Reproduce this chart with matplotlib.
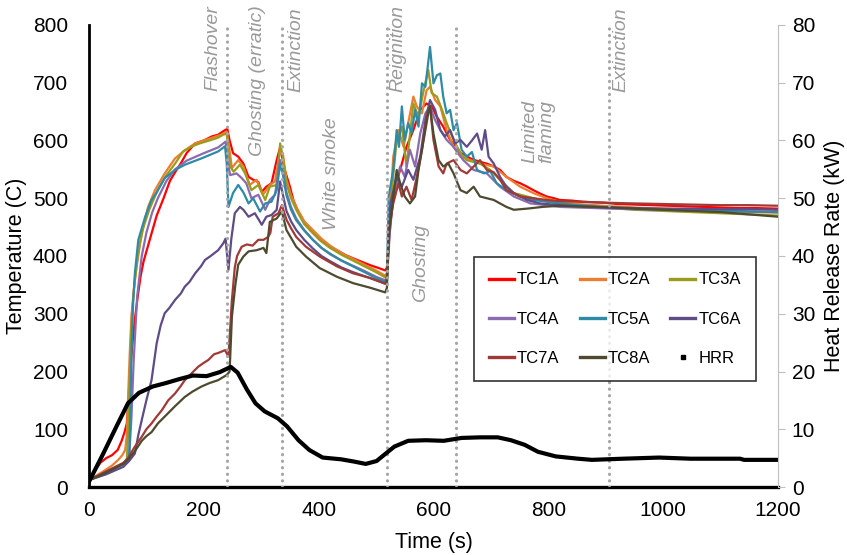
import matplotlib
matplotlib.use("Agg")
import matplotlib.pyplot as plt
from matplotlib.lines import Line2D

plt.rcParams['font.family'] = ['Liberation Sans', 'DejaVu Sans']

# thermocouple readings, temperature (C) against time (s)
tc1a_t = [0, 10, 20, 30, 40, 50, 57, 62, 66, 70, 75, 80, 85, 90, 95, 105, 118, 130, 141, 150, 161, 170, 185, 200, 214, 225, 237, 241,
          245, 251, 260, 269, 278, 286, 295, 301, 309, 318, 327, 333,
          341, 350, 356, 365, 373, 385, 402, 420, 432, 446, 460, 475, 490, 505, 516,
          519, 522, 525, 533, 542, 553, 565, 577, 588, 597, 606, 617, 629, 640, 647, 655, 664, 672, 681, 693, 705, 716, 727, 740, 751,
          763, 774, 786, 797, 810, 820, 840, 860, 880, 900, 920, 950, 980, 1010, 1040, 1070, 1100, 1130, 1160, 1200]
tc1a = [12, 28, 42, 50, 55, 64, 80, 95, 110, 170, 240, 290, 330, 365, 390, 425, 470, 500, 530, 545, 562, 578, 595, 600, 607, 610, 618, 620,
        600, 578, 572, 560, 537, 532, 528, 511, 520, 526, 566, 588,
        549, 520, 497, 475, 462, 445, 428, 415, 410, 402, 396, 390, 384, 379, 375,
        380, 420, 457, 520, 549, 589, 618, 653, 664, 659, 641, 624, 601, 590, 578, 575, 569, 566, 563, 560, 555, 549, 537, 530, 526,
        520, 514, 508, 503, 500, 497, 496, 494, 493, 492, 490, 489, 488, 487, 486, 485, 484, 483, 483, 482]

tc2a_t = [0, 10, 20, 28, 40, 51, 58, 63, 66, 68, 71, 74, 78, 83, 92, 103, 115, 132, 150, 167, 185, 200, 215, 230, 240,
          244, 249, 255, 260, 269, 280, 292, 303, 315, 324, 333, 338, 344, 352, 361, 375, 390, 405, 420, 440, 460, 480, 500, 516,
          519, 524, 530, 539, 548, 556, 565, 571, 580, 588, 594, 603, 612, 623, 635, 647, 664, 681, 705, 727, 751, 774, 797, 820,
          850, 880, 910, 950, 1000, 1050, 1100, 1150, 1200]
tc2a = [12, 18, 24, 29, 37, 47, 55, 64, 90, 150, 230, 295, 340, 381, 440, 485, 514, 543, 569, 583, 595, 600, 605, 610, 615,
        590, 552, 560, 566, 555, 523, 532, 506, 523, 529, 584, 575, 532, 505, 485, 460, 445, 430, 418, 405, 395, 385, 375, 366,
        370, 470, 572, 618, 589, 630, 676, 659, 647, 687, 693, 670, 659, 618, 589, 572, 566, 560, 555, 537, 520, 509, 500, 494,
        490, 488, 486, 484, 482, 480, 478, 476, 475]

tc3a_t = [0, 20, 40, 60, 66, 69, 72, 75, 80, 86, 95, 105, 120, 135, 150, 164, 180, 193, 210, 225, 234, 240,
          246, 252, 263, 272, 283, 295, 307, 315, 327, 333, 338, 344, 352, 361, 375, 390, 405, 420, 440, 460, 480, 500, 516,
          519, 524, 530, 536, 545, 553, 565, 574, 583, 591, 597, 606, 615, 623, 635, 647, 658, 681, 699, 716, 740, 763, 786, 820,
          850, 880, 910, 950, 1000, 1050, 1100, 1150, 1200]
tc3a = [12, 20, 30, 40, 48, 110, 220, 300, 360, 410, 450, 480, 515, 540, 560, 581, 590, 595, 600, 605, 610, 612,
        555, 546, 558, 543, 514, 523, 497, 520, 523, 595, 570, 525, 500, 480, 455, 440, 425, 414, 402, 392, 382, 372, 363,
        368, 460, 540, 601, 624, 555, 664, 641, 687, 722, 682, 676, 653, 630, 601, 578, 566, 560, 549, 532, 509, 503, 497, 491,
        488, 485, 483, 480, 478, 476, 474, 472, 470]

tc4a_t = [0, 20, 40, 60, 70, 74, 78, 84, 92, 100, 110, 120, 135, 150, 170, 200, 225, 238,
          242, 246, 257, 266, 274, 283, 295, 307, 315, 324, 333, 338, 344, 352, 361, 375, 390, 405, 420, 440, 460, 480, 500, 516,
          519, 524, 530, 542, 550, 559, 568, 577, 586, 594, 603, 612, 623, 635, 652, 670, 693, 716, 740, 769, 797, 820,
          850, 880, 910, 950, 1000, 1050, 1100, 1150, 1200]
tc4a = [12, 20, 30, 40, 50, 120, 220, 330, 400, 440, 475, 500, 530, 550, 565, 578, 588, 598,
        560, 540, 543, 535, 526, 500, 506, 480, 497, 506, 566, 545, 510, 485, 465, 445, 428, 414, 403, 392, 383, 374, 364, 358,
        362, 440, 503, 555, 537, 584, 555, 612, 647, 659, 635, 618, 601, 589, 566, 549, 543, 520, 503, 491, 488, 485,
        484, 483, 482, 481, 480, 479, 478, 477, 476]

tc5a_t = [0, 20, 40, 60, 70, 72, 74, 77, 80, 86, 98, 109, 118, 132, 150, 167, 196, 225, 237,
          240, 243, 251, 260, 269, 278, 286, 298, 307, 318, 327, 333, 338, 344, 352, 361, 375, 390, 405, 420, 440, 460, 480, 500, 516,
          519, 522, 530, 536, 540, 545, 550, 556, 562, 568, 574, 580, 586, 594, 600, 606, 612, 617, 623, 629, 635, 641, 649, 658,
          667, 676, 688, 699, 710, 727, 751, 774, 797, 820, 850, 880, 910, 950, 1000, 1050, 1100, 1150, 1200]
tc5a = [12, 20, 30, 40, 48, 120, 230, 320, 370, 428, 468, 497, 510, 535, 549, 558, 569, 581, 590,
        560, 485, 509, 523, 510, 491, 500, 477, 491, 494, 514, 560, 540, 505, 480, 462, 444, 428, 414, 404, 392, 382, 372, 362, 355,
        360, 503, 549, 618, 589, 659, 601, 630, 613, 653, 624, 699, 693, 762, 699, 713, 716, 676, 647, 653, 618, 630, 584, 572,
        580, 549, 543, 547, 526, 514, 503, 497, 494, 491, 488, 486, 484, 482, 480, 479, 478, 477, 476]

tc6a_t = [0, 30, 60, 70, 80, 86, 92, 100, 109, 118, 125, 132, 140, 150, 160, 167, 175, 185, 195, 202, 212, 225, 234, 238,
          243, 248, 254, 263, 269, 278, 289, 301, 309, 318, 327, 333, 338, 344, 352, 361, 375, 390, 405, 420, 440, 460, 480, 500, 516,
          519, 525, 536, 545, 556, 565, 577, 586, 594, 603, 612, 620, 629, 638, 647, 658, 667, 676, 684, 690, 696, 705, 716, 727,
          740, 763, 786, 820, 850, 880, 910, 950, 1000, 1050, 1100, 1150, 1200]
tc6a = [12, 22, 35, 45, 58, 90, 116, 150, 185, 249, 280, 301, 310, 324, 335, 347, 355, 370, 382, 393, 400, 410, 422, 430,
        376, 430, 474, 485, 480, 468, 474, 454, 468, 471, 480, 529, 505, 478, 460, 445, 428, 413, 400, 391, 380, 372, 365, 358, 352,
        360, 491, 537, 520, 549, 532, 572, 635, 670, 653, 618, 607, 618, 595, 601, 589, 600, 612, 584, 618, 572, 560, 537, 520,
        509, 497, 491, 488, 486, 485, 484, 483, 482, 482, 481, 481, 480]

tc7a_t = [0, 20, 40, 60, 68, 80, 92, 100, 109, 118, 127, 138, 150, 160, 167, 180, 190, 200, 208, 218, 225, 237, 243,
          249, 254, 258, 266, 275, 285, 295, 304, 312, 316, 320, 330, 336, 344, 352, 361, 378, 402, 432, 460, 490, 516,
          519, 522, 530, 539, 545, 553, 562, 571, 580, 588, 594, 600, 609, 617, 623, 635, 647, 658, 670, 681, 693, 705, 716, 727,
          751, 774, 797, 820, 850, 880, 910, 950, 1000, 1050, 1100, 1150, 1200]
tc7a = [12, 22, 32, 42, 50, 70, 87, 100, 110, 122, 133, 150, 162, 175, 185, 198, 208, 215, 220, 230, 232, 237, 226,
        324, 380, 400, 416, 420, 418, 428, 428, 433, 440, 468, 474, 488, 463, 448, 433, 416, 399, 382, 370, 362, 352,
        360, 445, 491, 526, 503, 520, 497, 537, 584, 641, 659, 601, 555, 543, 560, 566, 549, 543, 555, 566, 549, 545, 532, 514,
        503, 500, 497, 495, 494, 493, 492, 491, 490, 489, 488, 488, 487]

tc8a_t = [0, 20, 40, 60, 70, 80, 92, 100, 109, 120, 138, 150, 167, 180, 196, 210, 225, 240, 245,
          249, 255, 260, 269, 278, 292, 304, 309, 315, 327, 336, 344, 361, 378, 402, 432, 460, 490, 516,
          519, 522, 530, 536, 542, 550, 559, 568, 574, 583, 591, 594, 600, 609, 617, 626, 635, 647, 658, 670, 681, 693, 705, 716,
          727, 740, 763, 790, 820, 850, 880, 910, 950, 1000, 1050, 1100, 1150, 1200]
tc8a = [12, 20, 30, 40, 50, 62, 80, 88, 95, 110, 128, 140, 156, 165, 174, 180, 185, 194, 200,
        295, 350, 385, 399, 408, 410, 414, 405, 459, 465, 477, 445, 416, 399, 379, 364, 353, 345, 337,
        345, 433, 503, 549, 526, 503, 491, 503, 549, 601, 647, 659, 612, 566, 555, 560, 543, 514, 509, 520, 503, 500, 497, 491,
        485, 480, 482, 485, 487, 486, 485, 484, 482, 480, 478, 476, 472, 468]

# heat release rate (kW)
hrr_t = [0, 25, 48, 68, 87, 111, 134, 158, 181, 205, 228, 247, 259, 275, 290, 306, 329, 345, 365, 384, 407, 439, 462, 482,
         501, 517, 532, 556, 587, 618, 649, 681, 712, 735, 759, 782, 813, 852, 876, 930, 993, 1048, 1134, 1141, 1200]
hrr = [0.9, 5.8, 10.5, 14.5, 16.3, 17.4, 18.0, 18.7, 19.3, 19.2, 19.9, 20.8, 19.8, 16.9, 14.5, 13.1, 11.9, 10.5, 8.1, 6.4,
       5.1, 4.8, 4.4, 4.0, 4.5, 5.8, 7.0, 8.0, 8.1, 8.0, 8.5, 8.6, 8.6, 8.1, 7.3, 6.1, 5.3, 4.9, 4.7, 4.9, 5.1, 4.9, 4.9, 4.7, 4.7]

series_names = ['TC1A', 'TC2A', 'TC3A', 'TC4A', 'TC5A', 'TC6A', 'TC7A', 'TC8A']
series_t = [tc1a_t, tc2a_t, tc3a_t, tc4a_t, tc5a_t, tc6a_t, tc7a_t, tc8a_t]
series_T = [tc1a, tc2a, tc3a, tc4a, tc5a, tc6a, tc7a, tc8a]
colors = ['#ff0000', '#ed7d31', '#9c9c1c', '#8a6bb0', '#2f8aa6', '#5e4b87', '#a03a36', '#4e4a30']

# fire stages: time of the event and the annotation written beside it
event_times = [240, 336, 519, 639, 906]
stage_labels = ['Flashover', 'Ghosting (erratic)', 'Extinction', 'White smoke', 'Reignition',
                'Ghosting', 'Limited\nflaming', 'Extinction']
stage_x = [216, 293, 360, 422, 538, 578, 782, 927]
stage_y = [835, 835, 830, 640, 835, 455, 670, 830]

fig = plt.figure(figsize=(8.47, 5.55), dpi=100)
ax = fig.add_axes([0.105, 0.1225, 0.8135, 0.8325])
ax2 = ax.twinx()

for t, T, c in zip(series_t, series_T, colors):
    ax.plot(t, T, color=c, lw=1.6)

for x in event_times:
    ax2.plot([x, x], [0, 80], color='#a6a6a6', lw=2.3, ls=(0, (0.05, 2.0)),
             dash_capstyle='round', zorder=1)
ax2.plot(hrr_t, hrr, color='k', lw=3, zorder=2)

for s, x, y in zip(stage_labels, stage_x, stage_y):
    ax.text(x, y, s, rotation=90, ha='center', va='top', style='italic',
            color='#9a9a9a', fontsize=14, clip_on=False, linespacing=1.0)

ax.set_xlim(0, 1200)
ax.set_ylim(0, 800)
ax2.set_ylim(0, 80)
ax.set_xticks(range(0, 1201, 200))
ax.set_yticks(range(0, 801, 100))
ax2.set_yticks(range(0, 81, 10))

ax.spines['top'].set_visible(False)
ax.spines['right'].set_visible(False)
ax.spines['left'].set_linewidth(2)
ax.spines['bottom'].set_linewidth(2.4)
ax2.spines['top'].set_visible(False)
ax2.spines['left'].set_visible(False)
ax2.spines['bottom'].set_visible(False)
ax2.spines['right'].set_color('#bfbfbf')

ax.tick_params(axis='y', length=0, pad=15, labelsize=15)
ax.tick_params(axis='x', length=0, pad=10, labelsize=15)
ax2.tick_params(axis='y', length=5, color='#bfbfbf', pad=5, labelsize=15)

ax.set_xlabel('Time (s)', fontsize=15.5, labelpad=9)
ax.set_ylabel('Temperature (C)', fontsize=15.5, labelpad=4)
ax2.set_ylabel('Heat Release Rate (kW)', fontsize=15.5, labelpad=6)

# legend fills row by row: reorder entries for matplotlib's column-wise layout
handles = [Line2D([], [], color=c, lw=2.4) for c in colors]
handles.append(Line2D([], [], color='k', marker='s', markersize=2.5, ls='none'))
labels = series_names + ['HRR']
order = [0, 3, 6, 1, 4, 7, 2, 5, 8]
leg = ax2.legend([handles[i] for i in order], [labels[i] for i in order], ncol=3,
                 loc='center', bbox_to_anchor=(0.7635, 0.3635), fontsize=12, frameon=True,
                 fancybox=False, edgecolor='k', handlelength=1.5, handletextpad=0.2,
                 columnspacing=1.2, labelspacing=1.45, borderpad=0.9, borderaxespad=0)
leg.get_frame().set_linewidth(1.2)
leg.set_zorder(5)

fig.savefig('out.png', dpi=100)
